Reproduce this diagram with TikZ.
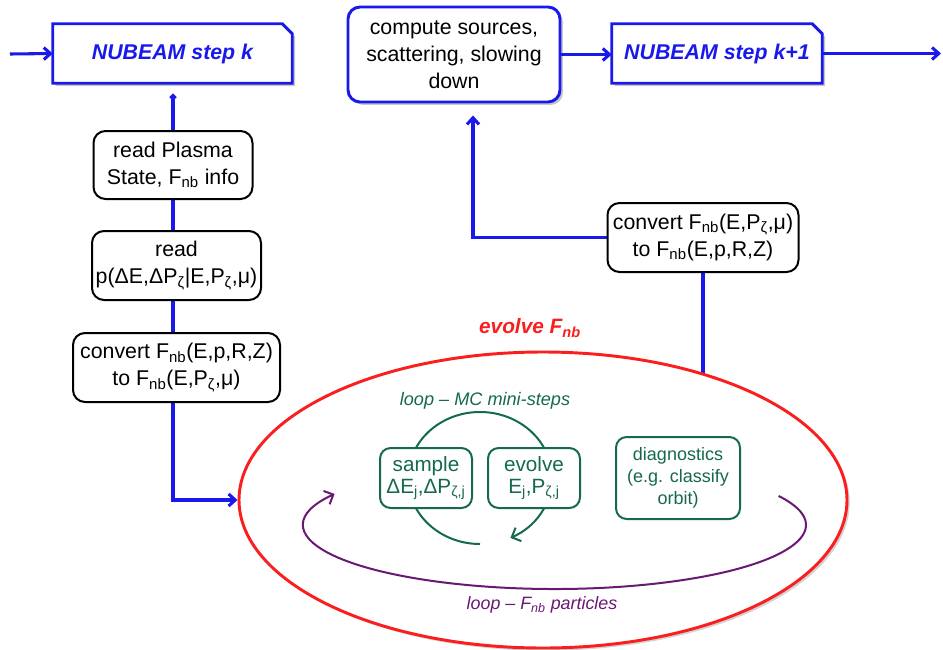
\documentclass[tikz,border=0pt]{standalone}
\usepackage{fontspec}
\setmainfont{Liberation Sans}
\usetikzlibrary{arrows.meta,shapes.geometric,shadows,backgrounds,calc}
\definecolor{nbblue}{RGB}{25,25,235}
\definecolor{nbred}{RGB}{250,30,30}
\definecolor{nbgreen}{RGB}{20,105,80}
\definecolor{nbpurple}{RGB}{105,25,115}
\tikzset{
  myshadow/.style={drop shadow={shadow xshift=2.2pt, shadow yshift=-2.2pt, opacity=0.4, fill=black!55}},
  stepframe/.style={draw=nbblue, line width=2.2pt, fill=white, myshadow},
  steptext/.style={text=nbblue, font=\fontsize{16}{19}\selectfont\bfseries\itshape},
  bluebox/.style={draw=nbblue, line width=2.2pt, fill=white, rounded corners=9pt, myshadow, align=center, inner sep=2pt, font=\fontsize{16}{20.25}\selectfont},
  blackbox/.style={draw=black, line width=1.5pt, fill=white, rounded corners=9pt, align=center, inner sep=2pt, font=\fontsize{16}{20.25}\selectfont},
  greenbox/.style={draw=nbgreen, line width=1.5pt, fill=white, rounded corners=8pt, align=center, inner sep=2pt, text=nbgreen},
  blueline/.style={draw=nbblue, line width=2.3pt},
  bluearrow/.style={blueline, -{Straight Barb[length=5pt,width=9pt]}},
  loopgreen/.style={draw=nbgreen, line width=1.5pt, -{Straight Barb[length=5.5pt,width=11pt]}},
  looppurple/.style={draw=nbpurple, line width=1.5pt, -{Straight Barb[length=5.5pt,width=11pt]}},
}
\begin{document}
\begin{tikzpicture}[x=0.75pt,y=-0.75pt]
\useasboundingbox (0,0) rectangle (943,650);

% ---- top row
\node[minimum width=179.25pt, minimum height=44.25pt, inner sep=0] (nk) at (172.5,53.5) {};
\path[stepframe] (nk.south west) -- (nk.north west) -- ([xshift=-7.5pt]nk.north east)
   -- ([yshift=-7.5pt]nk.north east) -- (nk.south east) -- cycle;
\node[steptext] (nkt) at (nk.center) {NUBEAM step k};

\node[bluebox, minimum width=159pt, minimum height=71.25pt] (comp) at (454,54.5)
  {compute sources,\\scattering, slowing\\down};

\node[minimum width=157.5pt, minimum height=44.25pt, inner sep=0] (nk1) at (717,53.5) {};
\path[stepframe] (nk1.south west) -- (nk1.north west) -- ([xshift=-7.5pt]nk1.north east)
   -- ([yshift=-7.5pt]nk1.north east) -- (nk1.south east) -- cycle;
\node[steptext] (nk1t) at (nk1.center) {NUBEAM step k+1};

% ---- left column
\node[blackbox, minimum width=119.25pt, minimum height=51pt] (rp) at (173,165)
  {read Plasma\\State, F\textsubscript{nb} info};
\node[blackbox, minimum width=126.75pt, minimum height=51.75pt] (rd) at (176.5,265.5)
  {read\\p(ΔE,ΔP\textsubscript{ζ}|E,P\textsubscript{ζ},μ)};
\node[blackbox, minimum width=155.25pt, minimum height=51.75pt] (cv) at (176.5,367.5)
  {convert F\textsubscript{nb}(E,p,R,Z)\\to F\textsubscript{nb}(E,P\textsubscript{ζ},μ)};

% ---- right convert
\node[blackbox, minimum width=143.25pt, minimum height=51.75pt] (rc) at (703,237.5)
  {convert F\textsubscript{nb}(E,P\textsubscript{ζ},μ)\\to F\textsubscript{nb}(E,p,R,Z)};

% ---- big ellipse
\node[ellipse, draw=nbred, line width=2.2pt, fill=white, inner sep=0,
      minimum width=456pt, minimum height=222pt,
      drop shadow={shadow xshift=2pt, shadow yshift=-2pt, opacity=0.35, fill=black!50}] (ell) at (543,500) {};

% ---- connectors
\coordinate (inL) at (10,54);
\coordinate (outR) at (941,54);
\draw[bluearrow] (inL) -- (nk.west);
\draw[bluearrow] (comp.east) -- (comp.east -| nk1.west);
\draw[bluearrow] (nk1.east) -- (nk1.east -| outR);
\draw[blueline, -{Straight Barb[length=2pt,width=4pt]}, shorten >=7.5pt] (rp.north) -- (rp.north |- nk.south);
\begin{scope}[on background layer]
\draw[blueline] (rp.south) -- (rp.south |- rd.north);
\draw[blueline] (rp.south |- rd.south) -- (rp.south |- cv.north);
\draw[bluearrow] (rp.south |- cv.south) -- (rp.south |- ell.west) -- (ell.west);
\draw[bluearrow] (rc.west) -| ($(comp.south)+(19,12)$);
\draw[blueline] (rc.south) -- (rc.south |- ell.center);
\end{scope}

% ---- loops
\coordinate (mc) at (480,478);
\draw[loopgreen] ($(mc)+(270:54pt and 49.5pt)$) arc[start angle=270, end angle=-65, x radius=54pt, y radius=49.5pt];
\coordinate (pc) at (554.5,525);
\draw[looppurple] ($(pc)+(27:188.6pt and 48pt)$) arc[start angle=27, end angle=-209, x radius=188.6pt, y radius=48pt];

% ---- green boxes
\node[greenbox, minimum width=69pt, minimum height=45pt, font=\fontsize{15.5}{16.5}\selectfont] (smp) at (426,478)
  {sample\\ΔE\textsubscript{j},ΔP\textsubscript{ζ,j}};
\node[greenbox, minimum width=69pt, minimum height=45pt, font=\fontsize{15.5}{16.5}\selectfont] (evo) at (534,478)
  {evolve\\E\textsubscript{j},P\textsubscript{ζ,j}};
\node[greenbox, minimum width=93pt, minimum height=61.5pt, font=\fontsize{13.5}{16.3}\selectfont] (diag) at (678,478)
  {diagnostics\\(e.g. classify\\orbit)};

% ---- labels
\node[text=nbred, font=\fontsize{15.6}{18}\selectfont\bfseries\itshape] (evl) at (530,328) {evolve F\textsubscript{nb}};
\node[text=nbgreen, font=\fontsize{13.6}{16}\selectfont\itshape] (mcl) at (485,401) {loop – MC mini-steps};
\node[text=nbpurple, font=\fontsize{13.4}{16}\selectfont\itshape] (pl) at (542,605) {loop – F\textsubscript{nb} particles};
\end{tikzpicture}
\end{document}
